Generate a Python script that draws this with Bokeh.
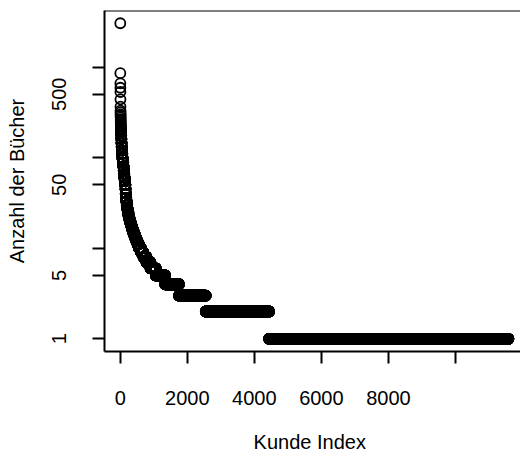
import numpy as np
from bokeh.plotting import figure
from bokeh.models import FixedTicker, Span, Range1d
from bokeh.embed import file_html
from bokeh.resources import INLINE

# Anzahl der Bücher (distinct values, descending) and number of customers with that value
buecher = [3040, 855, 660, 590, 530, 440, 365, 330, 315, 300, 290, 278, 265, 255,
           245, 236, 228, 220, 212, 210, 205, 200,
           190, 175, 160, 145, 132, 120, 110, 100,
           95, 88, 80, 72, 66, 60, 55, 50,
           45, 40, 36, 33, 30, 27, 25, 23, 22, 21,
           20, 19, 18, 17, 16, 15, 14, 13, 12, 11,
           10, 9, 8, 7, 6, 5, 4, 3, 2, 1]
kunden = [1, 1, 1, 1, 1, 1, 1, 1, 1, 1, 1, 1, 1, 1,
          1, 1, 1, 1, 1, 1, 1, 1,
          4, 4, 5, 6, 6, 7, 8, 8,
          11, 10, 10, 10, 10, 11, 11, 12,
          6, 9, 10, 12, 16, 16, 20, 12, 13, 14,
          16, 18, 20, 22, 24, 27, 30, 35, 40, 45,
          60, 70, 90, 120, 160, 280, 410, 800, 1890, 7140]

x_ticks = [0, 2000, 4000, 6000, 8000, 10000]
x_labels = ["0", "2000", "4000", "6000", "8000", ""]
y_ticks = [1, 5, 10, 50, 100, 500, 1000]
y_labels = ["1", "5", "", "50", "", "500", ""]

y = np.repeat(np.array(buecher, dtype=float), kunden)
x = np.arange(1, len(y) + 1)

FONT = "Liberation Sans"

p = figure(width=520, height=459, y_axis_type="log",
           output_backend="svg", toolbar_location=None,
           x_range=Range1d(-470, 11940), y_range=Range1d(0.724, 4204),
           min_border_left=104, min_border_right=0,
           min_border_top=10, min_border_bottom=108)

p.scatter(x, y, marker="circle", size=10, fill_color=None,
          line_color="black", line_width=1.8)

p.grid.visible = False
p.outline_line_color = None
p.add_layout(Span(location=4204, dimension="width", line_color="black", line_width=2))

p.xaxis.ticker = FixedTicker(ticks=x_ticks)
p.xaxis.major_label_overrides = {t: l for t, l in zip(x_ticks, x_labels)}
p.yaxis.ticker = FixedTicker(ticks=y_ticks)
p.yaxis.major_label_overrides = {t: l for t, l in zip(y_ticks, y_labels)}

p.xaxis.axis_label = "Kunde  Index"
p.yaxis.axis_label = "Anzahl der Bücher"

for ax in (p.xaxis[0], p.yaxis[0]):
    ax.axis_line_color = "black"
    ax.axis_line_width = 2
    ax.major_tick_line_color = "black"
    ax.major_tick_line_width = 2
    ax.major_tick_out = 12
    ax.major_tick_in = 0
    ax.minor_tick_line_color = None
    ax.major_label_text_font = FONT
    ax.major_label_text_font_size = "20px"
    ax.major_label_text_color = "black"
    ax.axis_label_text_font = FONT
    ax.axis_label_text_font_size = "20px"
    ax.axis_label_text_font_style = "normal"
    ax.axis_label_text_color = "black"

p.xaxis.major_label_standoff = 27
p.xaxis.axis_label_standoff = 23
p.yaxis.major_label_orientation = "parallel"
p.yaxis.major_label_standoff = 26
p.yaxis.axis_label_standoff = 22

open("out.html", "w").write(file_html(p, INLINE))
